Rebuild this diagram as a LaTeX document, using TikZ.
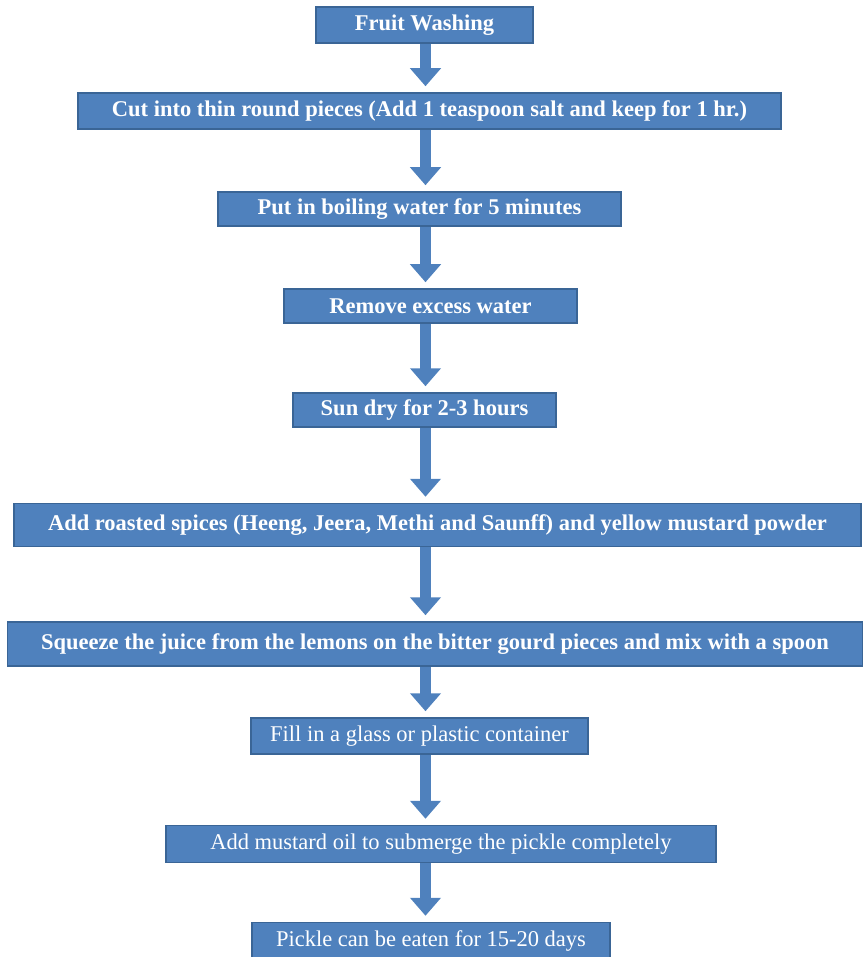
\documentclass[tikz,border=0pt]{standalone}
\usepackage{fontspec}
\setmainfont{Liberation Serif}
\usetikzlibrary{positioning}
\usetikzlibrary{calc}
\usetikzlibrary{arrows.meta}
\definecolor{stepfill}{HTML}{4F81BD}
\definecolor{stepline}{HTML}{3A6596}
\tikzset{
  box/.style     = { rectangle, inner sep=2pt, minimum height=34pt },
  border/.style  = { line width=1.5pt, draw=stepline },
  stage/.style   = { box, border, fill=stepfill, text=white,
                     font=\fontsize{22.5}{25}\selectfont },
  strong/.style  = { stage, font=\fontsize{22.5}{25}\selectfont\bfseries },
  plain/.style   = { stage },
  flow/.style    = { line width=11pt, draw=stepfill,
                     -{Triangle[length=18pt,width=30pt]}, shorten >=6pt }
}

\begin{document}
\begin{tikzpicture}[x=1pt,y=-1pt]
  \useasboundingbox (0,0) rectangle (863,957);
  \coordinate (axis) at (425.5,0);

  \node (wash)   [strong,minimum width=217pt,minimum height=36pt] at (424.5,25)  {Fruit Washing};
  \node (cut)    [strong,minimum width=703pt,minimum height=36pt] at (429.5,111) {Cut into thin round pieces (Add 1 teaspoon salt and keep for 1 hr.)};
  \node (boil)   [strong,minimum width=403pt]                     at (419.5,209) {Put in boiling water for 5 minutes};
  \node (drain)  [strong,minimum width=293pt]                     at (430.5,306) {Remove excess water};
  \node (sun)    [strong,minimum width=263pt]                     at (424.5,410) {Sun dry for 2-3 hours};
  \node (spice)  [strong,minimum width=847pt,minimum height=43pt] at (437.5,525) {Add roasted spices (Heeng, Jeera, Methi and Saunff) and yellow mustard powder};
  \node (juice)  [strong,minimum width=855pt,minimum height=44pt] at (435,644)   {Squeeze the juice from the lemons on the bitter gourd pieces and mix with a spoon};
  \node (fill)   [plain,minimum width=337pt,minimum height=36pt]  at (419.5,736) {Fill in a glass or plastic container};
  \node (oil)    [plain,minimum width=550pt,minimum height=37pt]  at (441,844)   {Add mustard oil to submerge the pickle completely};
  \node (eat)    [plain,minimum width=358pt,minimum height=37pt]  at (431,941)   {Pickle can be eaten for 15-20 days};

  \draw [flow] (wash.south -| axis)  -- (cut.north -| axis);
  \draw [flow] (cut.south -| axis)   -- (boil.north -| axis);
  \draw [flow] (boil.south -| axis)  -- (drain.north -| axis);
  \draw [flow] (drain.south -| axis) -- (sun.north -| axis);
  \draw [flow] (sun.south -| axis)   -- (spice.north -| axis);
  \draw [flow] (spice.south -| axis) -- (juice.north -| axis);
  \draw [flow] (juice.south -| axis) -- (fill.north -| axis);
  \draw [flow] (fill.south -| axis)  -- (oil.north -| axis);
  \draw [flow] (oil.south -| axis)   -- (eat.north -| axis);

\end{tikzpicture}
\end{document}
